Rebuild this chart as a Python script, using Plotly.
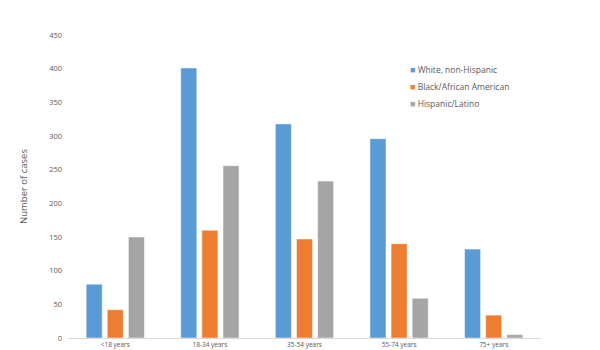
import plotly.graph_objects as go

categories = ["<18 years", "18-34 years", "35-54 years", "55-74 years", "75+ years"]
white = [80, 401, 318, 296, 132]
black = [42, 160, 147, 140, 34]
hispanic = [150, 256, 233, 59, 5]
series_names = ["White, non-Hispanic", "Black/African American", "Hispanic/Latino"]
colors = ["#5B9BD5", "#ED7D31", "#A5A5A5"]

fig = go.Figure()
for name, vals, c in zip(series_names, [white, black, hispanic], colors):
    fig.add_trace(go.Bar(x=categories, y=vals, name=name, showlegend=False,
                         marker=dict(color=c, line=dict(color="white", width=0.5))))

# legend drawn as text entries with coloured squares
for i, (name, c) in enumerate(zip(series_names, colors)):
    fig.add_annotation(xref="paper", yref="paper", x=(408 - 68) / 473, y=(338 - 70 - i * 16.5) / 303,
                       xanchor="left", yanchor="middle", showarrow=False, align="left",
                       text=f"<span style='color:{c};font-size:9px'>■</span> {name}",
                       font=dict(size=8.5, color="#595959"))

fig.update_layout(
    width=600, height=350,
    margin=dict(l=68, r=59, t=35, b=12),
    paper_bgcolor="white", plot_bgcolor="white",
    barmode="group", bargap=0.33, bargroupgap=0.24,
    font=dict(family="Open Sans, Calibri, sans-serif", color="#595959"),
    showlegend=False,
    yaxis=dict(range=[0, 450], dtick=50, showgrid=False, zeroline=False,
               showline=False, tickfont=dict(size=7.5, color="#595959"),
               ticks="", ticklabelstandoff=5, automargin=False,
               title=dict(text="Number of cases", font=dict(size=9.5, color="#595959"), standoff=19)),
    xaxis=dict(showline=True, linecolor="#D9D9D9", linewidth=1, showgrid=False,
               ticks="", tickfont=dict(size=6.5, color="#595959"), ticklabelstandoff=0,
               automargin=False),
)

fig.write_html("out.html")
